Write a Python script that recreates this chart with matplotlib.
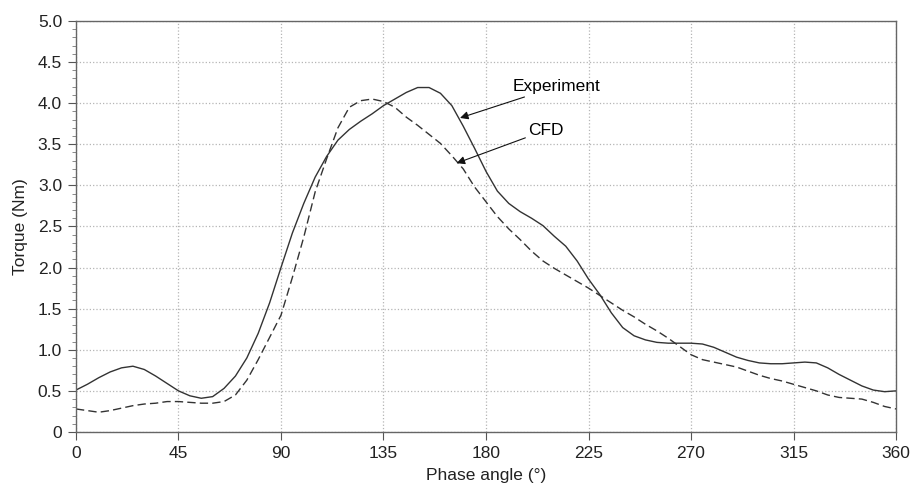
import matplotlib
matplotlib.use("Agg")
from matplotlib import pyplot as plt
from matplotlib.ticker import MultipleLocator, FuncFormatter

plt.rcParams['font.family'] = ['Liberation Sans', 'DejaVu Sans']

# phase angle (deg)
angle_exp = [0, 5, 10, 15, 20, 25, 30, 35, 40, 45, 50, 55, 60, 65, 70, 75, 80, 85,
             90, 95, 100, 105, 110, 115, 120, 125, 130, 135, 140, 145, 150, 155,
             160, 165, 170, 175, 180, 185, 190, 195, 200, 205, 210, 215, 220, 225,
             230, 235, 240, 245, 250, 255, 260, 265, 270, 275, 280, 285, 290, 295,
             300, 305, 310, 315, 320, 325, 330, 335, 340, 345, 350, 355, 360]
torque_exp = [0.51, 0.58, 0.66, 0.73, 0.78, 0.80, 0.76, 0.68, 0.59, 0.50, 0.44, 0.41,
              0.43, 0.53, 0.68, 0.90, 1.20, 1.57, 2.00, 2.42, 2.78, 3.10, 3.35, 3.55,
              3.68, 3.78, 3.87, 3.97, 4.05, 4.13, 4.19, 4.19, 4.12, 3.97, 3.72, 3.45,
              3.17, 2.93, 2.78, 2.68, 2.60, 2.51, 2.38, 2.26, 2.08, 1.86, 1.67, 1.45,
              1.27, 1.17, 1.12, 1.09, 1.08, 1.08, 1.08, 1.07, 1.03, 0.97, 0.91, 0.87,
              0.84, 0.83, 0.83, 0.84, 0.85, 0.84, 0.78, 0.70, 0.63, 0.56, 0.51, 0.49,
              0.50]

angle_cfd = angle_exp
torque_cfd = [0.28, 0.26, 0.24, 0.26, 0.29, 0.32, 0.34, 0.35, 0.37, 0.37, 0.36, 0.35,
              0.35, 0.37, 0.45, 0.63, 0.88, 1.15, 1.42, 1.88, 2.37, 2.92, 3.32, 3.70,
              3.95, 4.03, 4.05, 4.02, 3.95, 3.83, 3.73, 3.62, 3.51, 3.36, 3.20, 2.98,
              2.80, 2.62, 2.47, 2.34, 2.20, 2.08, 1.99, 1.91, 1.83, 1.75, 1.66, 1.57,
              1.48, 1.40, 1.31, 1.23, 1.14, 1.04, 0.94, 0.88, 0.85, 0.82, 0.79, 0.74,
              0.69, 0.65, 0.62, 0.58, 0.54, 0.50, 0.45, 0.42, 0.41, 0.40, 0.36, 0.31,
              0.28]

x_ticks = [0, 45, 90, 135, 180, 225, 270, 315, 360]

fig = plt.figure(figsize=(9.12, 4.87), dpi=100)
ax = fig.add_axes([0.0833, 0.113, 0.8992, 0.844])

ax.plot(angle_exp, torque_exp, color='#333333', lw=1.0)
ax.plot(angle_cfd, torque_cfd, color='#333333', lw=1.0, dashes=(6, 3))

ax.set_xlim(0, 360)
ax.set_ylim(0, 5.0)
ax.set_xticks(x_ticks)
ax.yaxis.set_major_locator(MultipleLocator(0.5))
ax.yaxis.set_minor_locator(MultipleLocator(0.1))
ax.yaxis.set_major_formatter(FuncFormatter(lambda v, p: '0' if v == 0 else f'{v:.1f}'))
ax.tick_params(axis='both', which='major', length=6, width=0.8, color='#555555',
               labelsize=12.5, labelcolor='#222222', pad=4)
ax.tick_params(axis='y', which='minor', length=3, width=0.6, color='#777777')
ax.grid(True, which='major', ls=':', color='#b5b5b5', lw=0.9)

for s in ax.spines.values():
    s.set_color('#666666')
    s.set_linewidth(1.0)

ax.set_xlabel('Phase angle (°)', fontsize=12.5, color='#222222', labelpad=5)
ax.set_ylabel('Torque (Nm)', fontsize=12.5, color='#222222', labelpad=7)

arrow = dict(arrowstyle='-|>', color='#111111', lw=0.8, mutation_scale=12,
             shrinkA=0, shrinkB=0)
ax.annotate('Experiment', xy=(168.6, 3.82), xytext=(191.5, 4.2), fontsize=12.5,
            va='center', ha='left', arrowprops=arrow)
ax.annotate('CFD', xy=(167.1, 3.27), xytext=(198.5, 3.67), fontsize=12.5,
            va='center', ha='left', arrowprops=arrow)

fig.savefig('out.png', dpi=100)
